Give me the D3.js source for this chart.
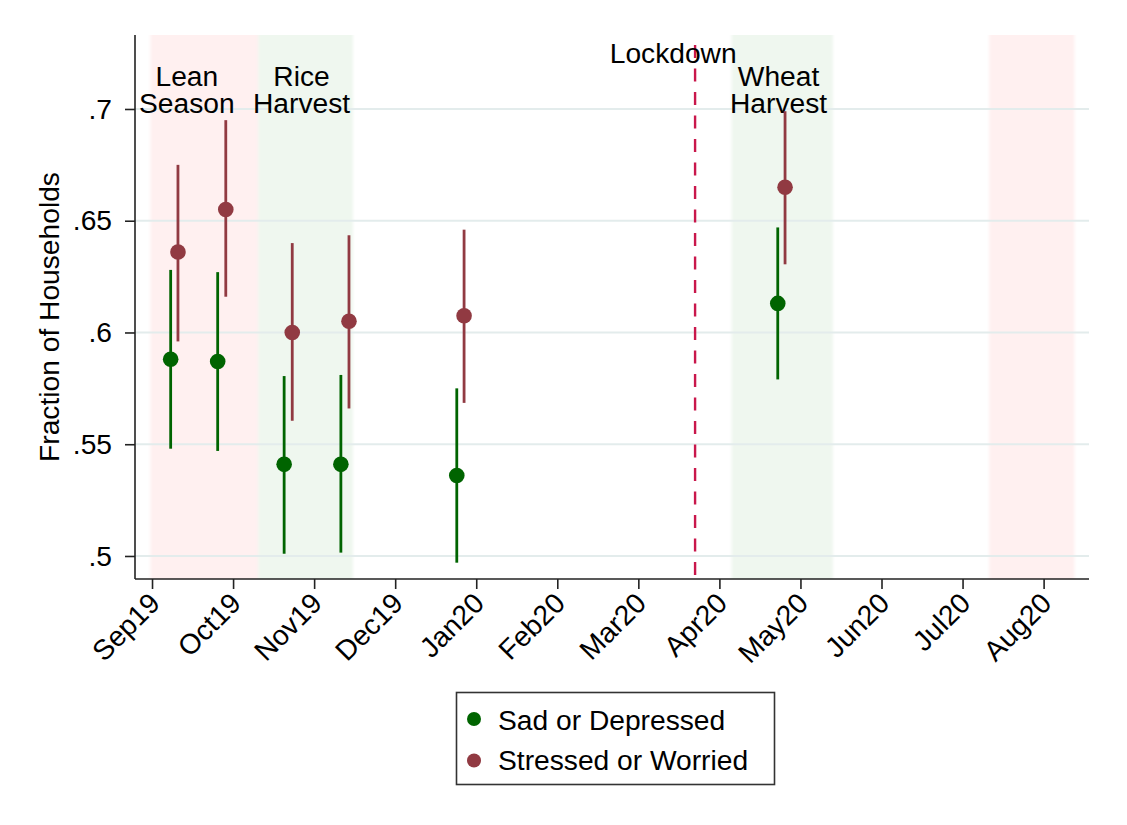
<!DOCTYPE html>
<html>
<head>
<meta charset="utf-8">
<script src="https://cdn.jsdelivr.net/npm/d3@7"></script>
<style>
  html, body { margin: 0; padding: 0; background: #ffffff; }
  svg { display: block; font-family: "Liberation Sans", Arial, sans-serif; }
</style>
</head>
<body>
<svg id="chart" width="1127" height="825"></svg>
<script>
// Month tick labels (x position = month index, Sep19 = 0)
const monthLabels = ["Sep19", "Oct19", "Nov19", "Dec19", "Jan20", "Feb20",
                     "Mar20", "Apr20", "May20", "Jun20", "Jul20", "Aug20"];

// Y tick values
const yTicks = [0.5, 0.55, 0.6, 0.65, 0.7];

// Sad or Depressed: survey position (month index), mean, 95% CI
const sadX    = [0.23, 0.81, 1.63, 2.33, 3.76, 7.72];
const sadMean = [0.588, 0.587, 0.541, 0.541, 0.536, 0.613];
const sadLo   = [0.548, 0.547, 0.501, 0.5015, 0.497, 0.579];
const sadHi   = [0.628, 0.627, 0.5805, 0.581, 0.575, 0.647];

// Stressed or Worried
const stressX    = [0.32, 0.91, 1.73, 2.43, 3.85, 7.81];
const stressMean = [0.636, 0.655, 0.600, 0.605, 0.6075, 0.665];
const stressLo   = [0.596, 0.616, 0.5605, 0.566, 0.5685, 0.6305];
const stressHi   = [0.675, 0.695, 0.640, 0.6435, 0.646, 0.699];

// Seasonal bands (month index start / end)
const bandNames  = ["lean", "rice", "wheat", "lean2"];
const bandStart  = [-0.02, 1.31, 7.15, 10.33];
const bandEnd    = [1.31, 2.48, 8.40, 11.38];
const bandKind   = ["lean", "harvest", "harvest", "lean"];

// Band labels
const bandLabelText = [["Lean", "Season"], ["Rice", "Harvest"], ["Wheat", "Harvest"]];
const bandLabelX    = [0.43, 1.845, 7.73];

// Lockdown marker
const lockdownX = 6.70;
const lockdownLabel = "Lockdown";
const lockdownLabelX = 6.43;

const seriesNames = ["Sad or Depressed", "Stressed or Worried"];

const svg = d3.select("#chart");
const colSad = "#006400";
const colStress = "#913a42";
const fontSize = 28.2;

const x = d3.scaleLinear().domain([-0.21, 11.56]).range([135, 1089]);
const y = d3.scaleLinear().domain([0.4897, 0.7331]).range([579, 35]);

// soft horizontal edges on the shaded bands
const defs = svg.append("defs");
defs.append("filter").attr("id", "soft")
  .attr("x", "-5%").attr("y", "0%").attr("width", "110%").attr("height", "100%")
  .append("feGaussianBlur").attr("stdDeviation", "1.5 0");

// shaded bands
svg.append("g").attr("filter", "url(#soft)")
  .selectAll("rect").data(bandNames).join("rect")
  .attr("x", (d, i) => x(bandStart[i]))
  .attr("width", (d, i) => x(bandEnd[i]) - x(bandStart[i]))
  .attr("y", y.range()[1])
  .attr("height", y.range()[0] - y.range()[1])
  .attr("fill", (d, i) => bandKind[i] === "lean" ? "#fff0f0" : "#eff7ef");

// gridlines
svg.append("g").selectAll("line").data(yTicks).join("line")
  .attr("x1", x.range()[0]).attr("x2", x.range()[1])
  .attr("y1", d => y(d)).attr("y2", d => y(d))
  .attr("stroke", "#e3ecec").attr("stroke-width", 2);

// lockdown line
svg.append("line")
  .attr("x1", x(lockdownX)).attr("x2", x(lockdownX))
  .attr("y1", y.range()[1] + 10).attr("y2", y.range()[0])
  .attr("stroke", "#c9174b").attr("stroke-width", 2.4)
  .attr("stroke-dasharray", "13,10.5");

// y axis
const yAxis = d3.axisLeft(y).tickValues(yTicks)
  .tickFormat(d => d3.format(".2~f")(d).replace(/^0/, ""))
  .tickSize(10).tickPadding(13);
const gy = svg.append("g").attr("transform", `translate(${x.range()[0]},0)`).call(yAxis);
gy.select(".domain").attr("d", `M0,${y.range()[0]}V${y.range()[1]}`)
  .attr("stroke", "#222").attr("stroke-width", 1.6);
gy.selectAll(".tick line").attr("stroke", "#222").attr("stroke-width", 1.6);
gy.selectAll(".tick text").attr("font-size", fontSize).attr("fill", "#000")
  .attr("font-family", "Liberation Sans, Arial, sans-serif");

// x axis
const xAxis = d3.axisBottom(x).tickValues(d3.range(monthLabels.length))
  .tickFormat(i => monthLabels[i]).tickSize(10);
const gx = svg.append("g").attr("transform", `translate(0,${y.range()[0]})`).call(xAxis);
gx.select(".domain").attr("d", `M${x.range()[0]},0H${x.range()[1]}`)
  .attr("stroke", "#222").attr("stroke-width", 1.6);
gx.selectAll(".tick line").attr("stroke", "#222").attr("stroke-width", 1.6);
gx.selectAll(".tick text")
  .attr("font-size", fontSize).attr("fill", "#000")
  .attr("font-family", "Liberation Sans, Arial, sans-serif")
  .attr("text-anchor", "end")
  .attr("dy", null).attr("y", null)
  .attr("transform", "translate(9,26) rotate(-45)");

// y axis title
svg.append("text")
  .attr("transform", `translate(59,${(y.range()[0] + y.range()[1]) / 2 + 10}) rotate(-90)`)
  .attr("text-anchor", "middle")
  .attr("font-size", fontSize)
  .text("Fraction of Households");

// band labels
bandLabelText.forEach((lines, i) => {
  lines.forEach((ln, j) => {
    svg.append("text").attr("text-anchor", "middle").attr("font-size", fontSize)
      .attr("x", x(bandLabelX[i])).attr("y", 86 + j * 27.3).text(ln);
  });
});
svg.append("text").attr("x", x(lockdownLabelX)).attr("y", 63)
  .attr("text-anchor", "middle").attr("font-size", fontSize).text(lockdownLabel);

// confidence spikes and point estimates
function drawSeries(xs, mean, lo, hi, color) {
  const g = svg.append("g");
  g.selectAll("line").data(xs).join("line")
    .attr("x1", d => x(d)).attr("x2", d => x(d))
    .attr("y1", (d, i) => y(lo[i])).attr("y2", (d, i) => y(hi[i]))
    .attr("stroke", color).attr("stroke-width", 2.8);
  g.selectAll("circle").data(xs).join("circle")
    .attr("cx", d => x(d)).attr("cy", (d, i) => y(mean[i]))
    .attr("r", 7.8).attr("fill", color);
}
drawSeries(sadX, sadMean, sadLo, sadHi, colSad);
drawSeries(stressX, stressMean, stressLo, stressHi, colStress);

// legend
const lg = svg.append("g");
lg.append("rect").attr("x", 456.5).attr("y", 692.5).attr("width", 318).attr("height", 92)
  .attr("fill", "#fff").attr("stroke", "#333").attr("stroke-width", 1.6);
const legendColors = [colSad, colStress];
seriesNames.forEach((name, i) => {
  lg.append("circle").attr("cx", 474).attr("cy", 719 + i * 41.5).attr("r", 7)
    .attr("fill", legendColors[i]);
  lg.append("text").attr("x", 498).attr("y", 729.5 + i * 40.5)
    .attr("font-size", fontSize).text(name);
});
</script>
</body>
</html>
